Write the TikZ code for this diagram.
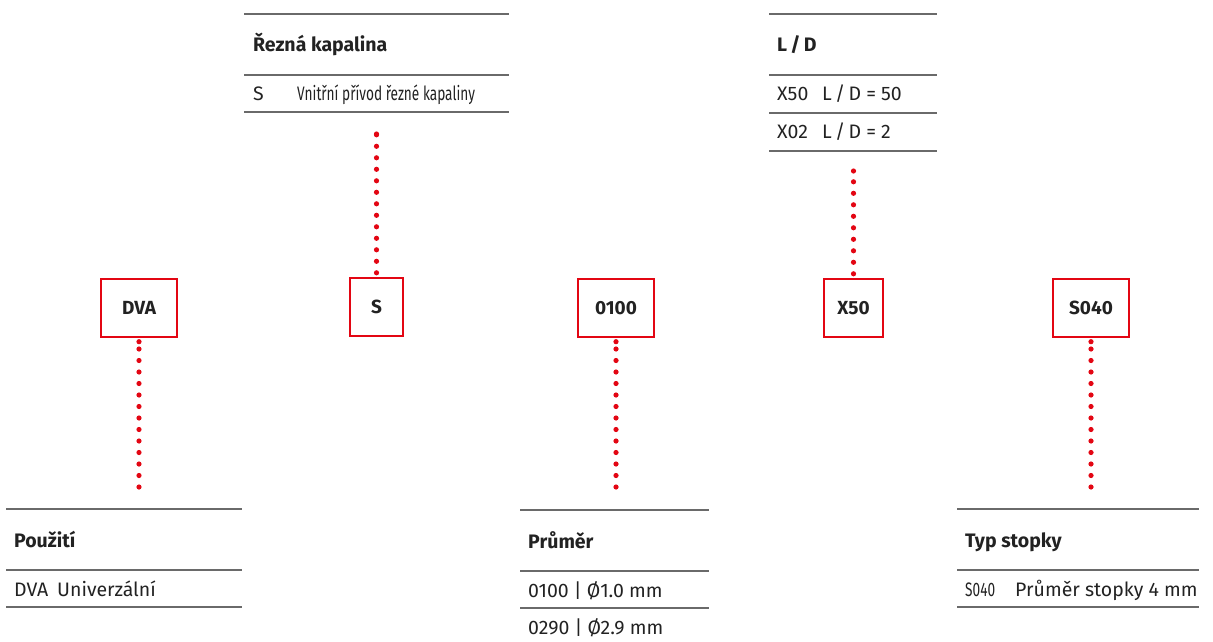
\documentclass[tikz,border=0pt]{standalone}
\usepackage{fontspec}
\setmainfont{Fira Sans}
\newfontfamily\narrowfont[FakeStretch=0.70]{Fira Sans}
\definecolor{dred}{HTML}{E30613}
\definecolor{rulec}{HTML}{6A6A6A}
\definecolor{txt}{HTML}{222222}
\begin{document}
\begin{tikzpicture}[x=1pt,y=-1pt,
  rulel/.style={draw=rulec, line width=1.3pt},
  codebox/.style={draw=dred, line width=2.4pt, minimum height=58pt, text=txt,
    font=\fontsize{19}{22}\selectfont\bfseries, inner sep=0pt},
  dots/.style={draw=dred, line width=5.2pt, line cap=round, dash pattern=on 0pt off 11.5pt},
  enddot/.style={fill=dred},
  ttl/.style={anchor=base west, inner sep=0pt, text=txt, font=\fontsize{19.5}{23}\selectfont\bfseries},
  rowt/.style={anchor=base west, inner sep=0pt, text=txt, font=\fontsize{19.5}{23}\selectfont},
  rown/.style={anchor=base west, inner sep=0pt, text=txt, font=\fontsize{19.5}{23}\narrowfont},
]
\useasboundingbox (0,0) rectangle (1213,642);

% code boxes
\node[codebox, minimum width=76pt] (dva) at (139,308) {DVA};
\node[codebox, minimum width=53pt] (s) at (376.5,307) {S};
\node[codebox, minimum width=76pt] (d0100) at (616,308) {0100};
\node[codebox, minimum width=59pt] (x50) at (853.5,308) {X50};
\node[codebox, minimum width=76pt] (s040) at (1091,308) {S040};

% dotted connectors
\coordinate (dvaA) at (139,487);
\coordinate (dvaB) at ([yshift=-3.5pt]dva.south);
\draw[dots] (dvaA) -- (dvaB);
\fill[enddot] (dvaB) circle (2.6);

\coordinate (sA) at ([yshift=4pt]s.north);
\coordinate (sB) at (376.5,134);
\draw[dots] (sA) -- (sB);
\fill[enddot] (sB) circle (2.6);

\coordinate (pA) at (616,487);
\coordinate (pB) at ([yshift=-3.5pt]d0100.south);
\draw[dots] (pA) -- (pB);
\fill[enddot] (pB) circle (2.6);

\coordinate (xA) at ([yshift=4pt]x50.north);
\coordinate (xB) at (853.5,171);
\draw[dots] (xA) -- (xB);
\fill[enddot] (xB) circle (2.6);

\coordinate (tA) at (1091,487);
\coordinate (tB) at ([yshift=-3.5pt]s040.south);
\draw[dots] (tA) -- (tB);
\fill[enddot] (tB) circle (2.6);

% table: Rezna kapalina
\draw[rulel] (244,14) -- (509,14);
\draw[rulel] (244,75) -- (509,75);
\draw[rulel] (244,112) -- (509,112);
\node[ttl] (t1) at (253,52) {Řezná kapalina};
\node[rowt] (t1a) at (253,100) {S};
\node[rown] (t1b) at (297,100) {Vnitřní přívod řezné kapaliny};

% table: L/D
\draw[rulel] (769,14) -- (937,14);
\draw[rulel] (769,75) -- (937,75);
\draw[rulel] (769,113) -- (937,113);
\draw[rulel] (769,151) -- (937,151);
\node[ttl] (t2) at (777,52) {L\,/\,D};
\node[rowt] (t2a) at (777,100) {X50};
\node[rowt] (t2b) at (822,100) {L\,/\,D = 50};
\node[rowt] (t2c) at (777,138) {X02};
\node[rowt] (t2d) at (822,138) {L\,/\,D = 2};

% table: Pouziti
\draw[rulel] (6,509) -- (242,509);
\draw[rulel] (6,570) -- (242,570);
\draw[rulel] (6,607) -- (242,607);
\node[ttl] (t3) at (14,547) {Použití};
\node[rowt] (t3a) at (14,596) {DVA};
\node[rowt] (t3b) at (57,596) {Univerzální};

% table: Prumer
\draw[rulel] (520,510) -- (709,510);
\draw[rulel] (520,571) -- (709,571);
\draw[rulel] (520,608) -- (709,608);
\node[ttl] (t4) at (528,548) {Průměr};
\node[rowt] (t4a) at (528,597) {0100 | Ø1.0 mm};
\node[rowt] (t4b) at (528,634) {0290 | Ø2.9 mm};

% table: Typ stopky
\draw[rulel] (957,509) -- (1199,509);
\draw[rulel] (957,570) -- (1199,570);
\draw[rulel] (957,607) -- (1199,607);
\node[ttl] (t5) at (965,547) {Typ stopky};
\node[rown] (t5a) at (965,596) {S040};
\node[rowt] (t5b) at (1015,596) {Průměr stopky 4 mm};
\end{tikzpicture}
\end{document}
